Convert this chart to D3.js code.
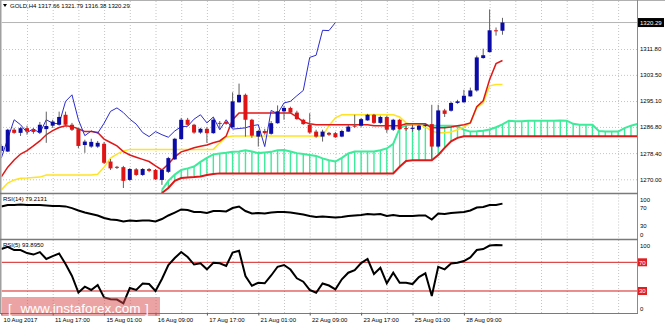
<!DOCTYPE html>
<html><head><meta charset="utf-8">
<script src="https://cdn.jsdelivr.net/npm/d3@7"></script>
<style>body{margin:0;background:#fff}svg{display:block;font-family:"Liberation Sans",Arial,sans-serif}</style>
</head><body>
<svg id="c" width="665" height="325"></svg>
<script>
// ---------------- DATA ----------------
const symbolTitle = "GOLD,H4";
const lastOHLC = ["1317.66", "1321.79", "1316.38", "1320.29"];
const xLabels = ["10 Aug 2017","11 Aug 17:00","15 Aug 01:00","16 Aug 09:00","17 Aug 17:00","21 Aug 01:00","22 Aug 09:00","23 Aug 17:00","25 Aug 01:00","28 Aug 09:00"];
const xLabelBars = [0,8,16,24,32,40,48,56,64,72];
const priceTicks = [1270.00,1278.40,1286.80,1295.10,1303.50,1311.80];
const rsiTicks = [100,70,30,0];
const rsiLevels = [70,30];

const open = [1279.1,1278.9,1285.9,1284.9,1286.4,1285.9,1285.0,1286.1,1287.2,1287.5,
1290.7,1287.5,1286.1,1281.0,1280.5,1280.5,1281.4,1275.7,1274.0,1273.9,
1269.8,1273.2,1271.4,1273.3,1273.0,1269.8,1272.4,1276.4,1282.9,1289.1,
1287.5,1285.0,1286.2,1284.8,1288.1,1288.4,1286.7,1294.7,1297.1,1289.1,
1283.7,1285.5,1284.6,1288.0,1291.8,1292.9,1291.4,1289.1,1287.5,1285.3,
1283.7,1284.9,1284.8,1283.7,1285.3,1287.2,1287.2,1288.9,1290.7,1288.1,
1290.0,1285.9,1289.1,1286.4,1286.4,1285.9,1287.3,1287.7,1280.5,1292.1,
1292.0,1294.5,1294.7,1296.6,1298.5,1308.9,1310.8,1317.8,1317.66];
const high = [1281.3,1286.2,1286.5,1286.8,1287.2,1286.5,1288.4,1291.7,1289.1,1291.7,
1291.7,1288.1,1286.5,1282.7,1283.0,1282.3,1282.0,1276.5,1274.3,1274.3,
1273.6,1273.6,1273.6,1273.6,1273.3,1273.3,1277.2,1283.3,1289.7,1289.7,
1287.8,1286.5,1286.8,1289.7,1288.7,1288.7,1297.9,1300.7,1297.5,1289.4,
1285.9,1286.2,1288.7,1293.7,1293.6,1293.3,1292.0,1289.4,1291.2,1285.9,
1285.9,1285.2,1285.2,1285.9,1287.5,1290.7,1289.7,1291.0,1291.0,1290.4,
1290.4,1289.4,1289.4,1287.2,1287.5,1287.5,1287.8,1293.9,1293.9,1292.6,
1294.9,1295.5,1298.7,1299.4,1309.7,1311.9,1324.5,1318.7,1321.79];
const low = [1278.5,1278.8,1284.6,1283.9,1284.3,1284.6,1284.6,1281.7,1286.5,1287.2,
1287.2,1285.5,1280.0,1278.5,1280.1,1280.1,1274.9,1273.0,1273.3,1267.2,
1269.5,1271.1,1271.1,1272.3,1269.8,1268.2,1272.0,1276.2,1282.7,1287.2,
1284.6,1284.6,1281.7,1284.6,1285.9,1287.5,1286.5,1294.6,1283.7,1283.3,
1280.5,1284.3,1284.3,1287.8,1289.1,1291.0,1289.1,1287.5,1284.6,1283.3,
1282.1,1283.9,1283.3,1283.5,1285.2,1286.5,1286.8,1288.8,1287.8,1287.8,
1284.9,1285.5,1285.9,1285.5,1285.2,1285.5,1286.8,1276.4,1280.1,1290.0,
1291.7,1294.2,1294.6,1296.5,1298.1,1308.7,1310.7,1316.1,1316.38];
const close = [1280.7,1285.9,1284.9,1286.4,1285.4,1285.2,1287.5,1287.1,1288.5,1290.0,
1287.5,1285.9,1280.7,1282.1,1282.0,1281.7,1275.3,1273.5,1273.7,1269.5,
1273.3,1271.4,1273.3,1272.7,1270.0,1273.0,1276.8,1283.0,1289.1,1287.5,
1285.0,1286.2,1284.8,1289.1,1288.0,1287.8,1295.0,1297.1,1289.1,1284.0,
1285.5,1284.8,1288.0,1291.8,1292.9,1291.4,1289.3,1287.7,1285.0,1283.7,
1285.3,1284.3,1283.5,1285.5,1286.9,1287.0,1289.3,1290.7,1288.1,1290.0,
1285.9,1289.1,1286.1,1286.3,1286.5,1287.2,1287.5,1280.5,1292.1,1291.0,
1294.5,1295.0,1296.8,1298.5,1309.1,1309.8,1317.8,1317.7,1320.29];

// Ichimoku
const tenkan = [1270.8,1273.9,1276.2,1278.1,1279.2,1280.7,1282.3,1284.3,1285.6,1286.6,
1287.2,1286.9,1286.2,1285.3,1285.3,1285.0,1282.9,1281.8,1280.7,1278.9,
1277.8,1277.1,1276.4,1275.7,1274.3,1273.0,1274.9,1277.2,1278.8,1279.4,
1280.1,1280.6,1281.0,1281.7,1282.3,1283.9,1289.1,1291.3,1291.3,1291.3,
1291.3,1291.3,1291.3,1291.3,1291.3,1291.3,1290.0,1288.4,1287.8,1287.5,
1287.5,1287.5,1287.5,1287.5,1287.5,1287.5,1287.5,1287.5,1287.2,1287.2,
1287.2,1287.2,1287.2,1287.8,1287.8,1287.8,1287.8,1286.5,1286.5,1286.5,
1286.8,1287.2,1287.5,1288.1,1293.3,1295.2,1302.0,1307.1,1308.1];
const kijun = [1266.6,1268.8,1269.8,1270.3,1270.4,1270.6,1270.7,1271.4,1271.4,1271.4,
1271.4,1271.4,1271.4,1271.4,1271.4,1271.6,1273.9,1276.8,1278.1,1279.1,
1279.6,1279.6,1279.6,1279.6,1279.6,1279.6,1279.6,1279.6,1279.6,1279.6,
1279.6,1279.6,1279.6,1279.6,1281.7,1283.6,1283.9,1283.9,1283.9,1283.9,
1283.9,1283.9,1283.9,1283.9,1283.9,1283.9,1283.9,1283.9,1283.9,1283.9,
1283.9,1287.2,1289.7,1290.7,1290.7,1290.7,1290.7,1290.7,1290.7,1290.7,
1290.7,1290.7,1290.0,1288.1,1287.5,1287.5,1286.8,1285.5,1284.9,1284.9,
1285.2,1285.9,1286.8,1288.1,1293.0,1294.5,1300.0,1300.4,1300.4];
const chikou = [1276.8,1283.0,1289.1,1287.5,1285.0,1286.2,1284.8,1289.1,1288.0,1287.8,
1295.0,1297.1,1289.1,1284.0,1285.5,1284.8,1288.0,1291.8,1292.9,1291.4,
1289.3,1287.7,1285.0,1283.7,1285.3,1284.3,1283.5,1285.5,1286.9,1287.0,
1289.3,1290.7,1288.1,1290.0,1285.9,1289.1,1286.1,1286.3,1286.5,1287.2,
1287.5,1280.5,1292.1,1291.0,1294.5,1295.0,1296.8,1298.5,1309.1,1309.8,
1317.8,1317.7,1320.29];
const cloudStartBar = 25;
const spanA = [1266.6,1269.5,1271.5,1273.0,1273.5,1274.1,1275.6,1276.9,1278.0,1278.3,
1278.5,1278.8,1278.9,1279.3,1278.9,1278.4,1278.6,1278.8,1279.3,1279.4,
1278.9,1278.4,1278.1,1277.8,1277.5,1276.7,1276.1,1275.7,1276.9,1278.3,
1278.9,1278.9,1278.9,1278.9,1279.3,1279.9,1281.4,1286.4,1287.3,1287.5,
1287.5,1287.3,1287.2,1287.2,1287.2,1287.2,1287.0,1285.9,1285.3,1285.4,
1285.6,1286.0,1286.7,1287.6,1288.8,1288.6,1288.6,1288.8,1288.8,1288.8,
1288.8,1288.8,1288.9,1288.8,1287.8,1287.5,1287.5,1287.5,1285.5,1285.3,
1285.3,1285.3,1286.4,1287.2,1287.8];
const spanB = [1265.6,1267.2,1269.5,1270.4,1270.6,1270.7,1270.9,1271.4,1271.7,1271.9,
1271.9,1271.9,1271.9,1271.9,1271.9,1271.9,1271.9,1271.9,1271.9,1271.9,
1271.9,1271.9,1271.9,1271.9,1271.9,1271.9,1271.9,1271.9,1271.9,1271.9,
1271.9,1271.9,1271.9,1271.9,1271.9,1271.9,1271.9,1274.0,1275.9,1276.1,
1276.1,1276.1,1276.1,1277.8,1280.1,1282.2,1283.3,1283.8,1283.8,1283.8,
1283.8,1283.8,1283.8,1283.8,1283.8,1283.8,1283.8,1283.8,1283.8,1283.8,
1283.8,1283.8,1283.8,1283.8,1283.8,1283.8,1283.8,1283.8,1283.8,1283.8,
1283.8,1283.8,1283.8,1283.8,1283.8];

const rsi14 = [72.7,76.1,76.0,77.0,76.0,76.0,76.0,75.0,74.0,74.0,
73.0,69.0,63.6,59.0,55.7,52.3,46.6,43.2,42.0,38.6,
41.0,39.8,41.0,41.0,38.6,44.3,52.3,59.0,66.0,64.8,
60.2,60.2,58.0,62.5,62.5,61.4,69.3,72.7,62.5,56.8,
58.0,56.8,59.0,60.2,60.2,59.0,56.8,54.5,51.1,48.9,
50.0,48.9,47.7,48.9,51.1,52.3,53.4,55.7,54.5,55.7,
51.1,53.4,51.1,51.1,51.1,52.3,52.3,43.2,56.8,55.7,
58.0,59.0,60.2,63.6,70.5,71.6,76.1,76.0,79.2131];
const rsi5 = [88.5,91.7,87.1,87.1,82.9,80.8,84.3,74.6,78.7,82.2,
67.6,50.9,27.9,36.0,31.4,38.3,20.9,18.4,18.1,12.8,
34.1,31.4,40.4,39.7,30.0,46.7,66.2,76.0,84.3,77.4,
66.9,68.6,60.2,69.4,68.6,64.8,83.6,86.1,50.9,37.4,
41.5,40.7,51.6,63.8,66.2,59.9,47.7,42.9,31.4,27.6,
40.4,37.6,32.3,46.3,55.5,59.2,69.0,74.6,53.7,62.4,
40.7,55.5,41.5,41.5,39.7,49.5,54.6,23.0,63.8,60.2,
68.3,69.4,71.8,76.9,87.1,88.5,93.4,94.1,93.895];

// ---------------- LAYOUT ----------------
const svg = d3.select("#c");
const L = 1.5, R = 637;
const main = {top:1, bot:193.5}, p14 = {top:194.5, bot:239}, p5 = {top:240, bot:313.5};
const x = d3.scaleLinear().domain([0,99]).range([1.3,637.4]);
const yP = d3.scaleLinear().domain([1270,1311.8]).range([179.3,49]);
const y14 = d3.scaleLinear().domain([0,100]).range([238.5,194.5]);
const y5 = d3.scaleLinear().domain([0,100]).range([312.5,240.8]);
const FS = 6;

const defs = svg.append("defs");
function clip(id, p){ defs.append("clipPath").attr("id",id).append("rect")
  .attr("x",L).attr("y",p.top).attr("width",R-L).attr("height",p.bot-p.top); }
clip("cm",main); clip("c14",p14); clip("c5",p5);

// vertical grid
const gridBars = d3.range(4,100,4);
[main,p14,p5].forEach(p=>{
  const g = svg.append("g").attr("transform",`translate(0,${p.top})`)
    .call(d3.axisBottom(x).tickValues(gridBars).tickSize(p.bot-p.top).tickFormat(""));
  g.select(".domain").remove();
  g.selectAll("line").attr("stroke","#c4c4c4").attr("stroke-dasharray","1,2");
});
// horizontal grid main
{
  const g = svg.append("g").attr("transform",`translate(${R},0)`)
    .call(d3.axisLeft(yP).tickValues(priceTicks).tickSize(R-L).tickFormat(""));
  g.select(".domain").remove();
  g.selectAll("line").attr("stroke","#c4c4c4").attr("stroke-dasharray","1,2");
}

// ---------------- MAIN PANEL ----------------
const gm = svg.append("g").attr("clip-path","url(#cm)");
// bid line
gm.append("line").attr("x1",L).attr("x2",R).attr("y1",yP(+lastOHLC[3])).attr("y2",yP(+lastOHLC[3]))
  .attr("stroke","#b4b4b4").attr("stroke-width",1);

// cloud hatch
const cloudIdx = d3.range(spanA.length);
gm.append("g").selectAll("line").data(cloudIdx).join("line")
  .attr("x1",i=>x(i+cloudStartBar)).attr("x2",i=>x(i+cloudStartBar))
  .attr("y1",i=>yP(spanA[i])).attr("y2",i=>yP(spanB[i]))
  .attr("stroke","#3deb9a").attr("stroke-width",1.4);
const lineOff = off => d3.line().x((d,i)=>x(i+off)).y(d=>yP(d));
gm.append("path").attr("d",lineOff(cloudStartBar)(spanB)).attr("fill","none").attr("stroke","#e01818").attr("stroke-width",2);
gm.append("path").attr("d",lineOff(cloudStartBar)(spanA)).attr("fill","none").attr("stroke","#3deb9a").attr("stroke-width",2);
gm.append("path").attr("d",lineOff(0)(kijun)).attr("fill","none").attr("stroke","#ffe324").attr("stroke-width",1.5);
gm.append("path").attr("d",lineOff(0)(tenkan)).attr("fill","none").attr("stroke","#e01818").attr("stroke-width",1.5);
gm.append("path").attr("d",lineOff(0)(chikou)).attr("fill","none").attr("stroke","#2b2bd0").attr("stroke-width",1);

// candles
const bars = d3.range(open.length);
const bw = 4;
gm.append("g").selectAll("line").data(bars).join("line")
  .attr("x1",i=>x(i)).attr("x2",i=>x(i)).attr("y1",i=>yP(high[i])).attr("y2",i=>yP(low[i]))
  .attr("stroke","#606060").attr("stroke-width",1);
gm.append("g").selectAll("rect").data(bars).join("rect")
  .attr("x",i=>x(i)-bw/2).attr("width",bw)
  .attr("y",i=>Math.min(yP(open[i]),yP(close[i])))
  .attr("height",i=>Math.max(1,Math.abs(yP(open[i])-yP(close[i]))))
  .attr("fill",i=> close[i]>open[i] ? "#0b0ba8" : (close[i]<open[i] ? "#e01414" : "#404040"));

// ---------------- RSI PANELS ----------------
const g14 = svg.append("g").attr("clip-path","url(#c14)");
g14.append("path").attr("d",d3.line().x((d,i)=>x(i)).y(d=>y14(d))(rsi14))
  .attr("fill","none").attr("stroke","#000").attr("stroke-width",2);
const g5 = svg.append("g").attr("clip-path","url(#c5)");
rsiLevels.forEach(v=>{
  g5.append("line").attr("x1",L).attr("x2",R).attr("y1",y5(v)).attr("y2",y5(v))
    .attr("stroke","#d21e1e").attr("stroke-width",1);
});
g5.append("path").attr("d",d3.line().x((d,i)=>x(i)).y(d=>y5(d))(rsi5))
  .attr("fill","none").attr("stroke","#000").attr("stroke-width",2);

// ---------------- FRAME ----------------
const frame = svg.append("g").attr("stroke","#8a8a8a").attr("fill","none");
frame.append("line").attr("x1",0).attr("x2",665).attr("y1",0.5).attr("y2",0.5).attr("stroke","#b0b0b0");
frame.append("line").attr("x1",0.75).attr("x2",0.75).attr("y1",0).attr("y2",314).attr("stroke-width",1.5).attr("stroke","#a0a0a0");
frame.append("line").attr("x1",R+0.5).attr("x2",R+0.5).attr("y1",0).attr("y2",314);
[193.5,239.5].forEach(yy=>frame.append("line").attr("x1",0).attr("x2",R+1).attr("y1",yy).attr("y2",yy).attr("stroke-width",1.5).attr("stroke","#7a7a7a"));
frame.append("line").attr("x1",0).attr("x2",R+1).attr("y1",313.5).attr("y2",313.5).attr("stroke","#7a7a7a");

// ---------------- AXES / LABELS ----------------
function styleAxis(g){ g.select(".domain").remove(); g.selectAll("text").attr("font-size",FS).attr("fill","#000").attr("font-family","Liberation Sans, Arial, sans-serif"); }
const ap = svg.append("g").attr("transform",`translate(${R},0)`)
  .call(d3.axisRight(yP).tickValues(priceTicks).tickSize(0).tickPadding(3).tickFormat(d3.format(".2f")));
styleAxis(ap);

// current price box
const cp = +lastOHLC[3];
svg.append("rect").attr("x",R+1).attr("y",yP(cp)-4.5).attr("width",26).attr("height",9).attr("fill","#000");
svg.append("text").attr("x",R+3).attr("y",yP(cp)+2.2).attr("font-size",FS).attr("fill","#fff").text(lastOHLC[3]);

// RSI14 axis
const a14 = svg.append("g").attr("transform",`translate(${R},0)`)
  .call(d3.axisRight(y14).tickValues(rsiTicks).tickSize(0).tickPadding(3));
styleAxis(a14);
a14.selectAll(".tick text").attr("dy",d=> d===100 ? "1.1em" : d===0 ? "-0.3em" : "0.32em");
// RSI5 axis
const a5 = svg.append("g").attr("transform",`translate(${R},0)`)
  .call(d3.axisRight(y5).tickValues([100,0]).tickSize(0).tickPadding(3));
styleAxis(a5);
a5.selectAll(".tick text").attr("dy",d=> d===100 ? "1.1em" : "-0.3em");
rsiLevels.forEach(v=>{
  svg.append("rect").attr("x",R+1).attr("y",y5(v)-4).attr("width",9).attr("height",8).attr("fill","#e02020");
  svg.append("text").attr("x",R+2).attr("y",y5(v)+2.2).attr("font-size",FS).attr("fill","#fff").text(v);
});

// x axis labels
const ax = svg.append("g").attr("transform",`translate(0,313.5)`)
  .call(d3.axisBottom(x).tickValues(xLabelBars).tickSize(2).tickPadding(2).tickFormat((d,i)=>xLabels[i]));
styleAxis(ax);
ax.selectAll(".tick line").attr("stroke","#555");
ax.selectAll(".tick text").attr("text-anchor","start").attr("dx","0.3em");

// titles
svg.append("path").attr("d","M3,4 L7,4 L5,7 Z").attr("fill","#000");
svg.append("text").attr("x",10).attr("y",8).attr("font-size",FS).attr("fill","#000")
  .text(symbolTitle+" "+lastOHLC.join(" "));
svg.append("text").attr("x",3).attr("y",201).attr("font-size",FS).attr("fill","#000").text("RSI(14) 79.2131");
svg.append("text").attr("x",3).attr("y",247).attr("font-size",FS).attr("fill","#000").text("RSI(5) 93.8950");

// watermark
svg.append("rect").attr("x",2).attr("y",297).attr("width",158).attr("height",19).attr("fill","#d94848").attr("opacity",0.5);
const wm = svg.append("g").attr("fill","#fff").attr("font-size",13.5).attr("font-family","Liberation Sans, Arial, sans-serif");
wm.append("text").attr("x",8).attr("y",313).text("[");
wm.append("text").attr("x",20.5).attr("y",313).text("www.instaforex.com");
wm.append("text").attr("x",145).attr("y",313).text("]");
</script>
</body></html>
